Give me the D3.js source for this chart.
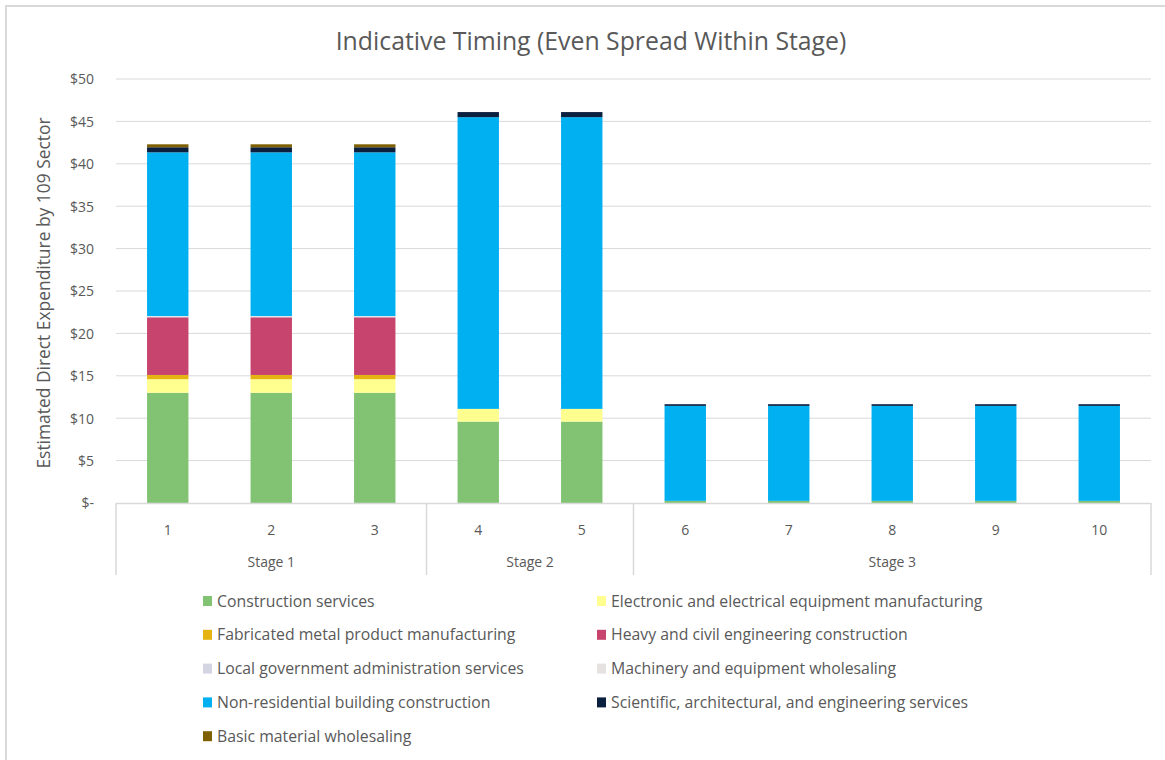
<!DOCTYPE html>
<html>
<head>
<meta charset="utf-8">
<script src="https://cdn.jsdelivr.net/npm/d3@7/dist/d3.min.js"></script>
<style>
  html, body { margin: 0; padding: 0; background: #fff; }
  svg text { font-family: "Open Sans", Lato, sans-serif; fill: #595959; }
</style>
</head>
<body>
<svg id="chart" width="1165" height="760"></svg>
<script>
// Periods and the stage each belongs to
const periods = ["1", "2", "3", "4", "5", "6", "7", "8", "9", "10"];
const stages = ["Stage 1", "Stage 1", "Stage 1", "Stage 2", "Stage 2",
                "Stage 3", "Stage 3", "Stage 3", "Stage 3", "Stage 3"];

// Sectors (stack order, bottom to top) and their colours
const sectors = [
  "Construction services",
  "Electronic and electrical equipment manufacturing",
  "Fabricated metal product manufacturing",
  "Heavy and civil engineering construction",
  "Local government administration services",
  "Machinery and equipment wholesaling",
  "Non-residential building construction",
  "Scientific, architectural, and engineering services",
  "Basic material wholesaling"
];
const colors = ["#82C373", "#FFFF8F", "#E6B412", "#C6446E", "#D4D4E2",
                "#E6E2E2", "#00B0F0", "#0B1F3F", "#7F6000"];

// Spend per period ($m) for each sector
const construction  = [13.0, 13.0, 13.0, 9.6, 9.6, 0.25, 0.25, 0.25, 0.25, 0.25];
const electronic    = [1.6, 1.6, 1.6, 1.5, 1.5, 0, 0, 0, 0, 0];
const fabricated    = [0.5, 0.5, 0.5, 0, 0, 0, 0, 0, 0, 0];
const heavyCivil    = [6.8, 6.8, 6.8, 0, 0, 0, 0, 0, 0, 0];
const localGov      = [0.1, 0.1, 0.1, 0, 0, 0, 0, 0, 0, 0];
const machinery     = [0.05, 0.05, 0.05, 0, 0, 0, 0, 0, 0, 0];
const nonResidential= [19.3, 19.3, 19.3, 34.4, 34.4, 11.2, 11.2, 11.2, 11.2, 11.2];
const scientific    = [0.6, 0.6, 0.6, 0.6, 0.6, 0.2, 0.2, 0.2, 0.2, 0.2];
const basicMaterial = [0.35, 0.35, 0.35, 0, 0, 0, 0, 0, 0, 0];

const yTicks = [0, 5, 10, 15, 20, 25, 30, 35, 40, 45, 50];
const tickLabels = ["$-", "$5", "$10", "$15", "$20", "$25", "$30", "$35", "$40", "$45", "$50"];

const seriesValues = [construction, electronic, fabricated, heavyCivil, localGov,
                      machinery, nonResidential, scientific, basicMaterial];

const rows = periods.map((p, i) => {
  const r = { period: p, stage: stages[i] };
  sectors.forEach((s, k) => { r[s] = seriesValues[k][i]; });
  return r;
});

const svg = d3.select("#chart");

// Outer chart frame
svg.append("rect")
  .attr("x", 6).attr("y", 6).attr("width", 1170).attr("height", 770)
  .attr("fill", "none").attr("stroke", "#d9d9d9").attr("stroke-width", 2);

const plot = { left: 116, right: 1151, top: 79, bottom: 503 };

const x = d3.scaleBand().domain(periods)
  .range([plot.left, plot.right]).paddingInner(0.6).paddingOuter(0.3);
const y = d3.scaleLinear().domain([0, 50]).range([plot.bottom, plot.top]);

// Title
svg.append("text")
  .attr("x", 591).attr("y", 50).attr("text-anchor", "middle")
  .style("font-size", "24.8px")
  .text("Indicative Timing (Even Spread Within Stage)");

// Gridlines
svg.append("g")
  .selectAll("line").data(yTicks.filter(t => t > 0)).join("line")
  .attr("x1", plot.left).attr("x2", plot.right)
  .attr("y1", d => y(d)).attr("y2", d => y(d))
  .attr("stroke", "#d9d9d9").attr("stroke-width", 1);

// Y axis labels
const yAxis = d3.axisLeft(y).tickValues(yTicks)
  .tickFormat((d, i) => tickLabels[i]).tickSize(0).tickPadding(0);
const gy = svg.append("g").attr("transform", `translate(${plot.left - 22},0)`).call(yAxis);
gy.select(".domain").remove();
gy.selectAll("text").style("font-size", "14px").attr("dy", "0.35em")
  .style("font-family", "'Open Sans', Lato, sans-serif").attr("fill", "#595959");

// Y axis title
svg.append("text")
  .attr("transform", `translate(50,${(plot.top + plot.bottom) / 2 + 2}) rotate(-90)`)
  .attr("text-anchor", "middle")
  .style("font-size", "17.4px")
  .text("Estimated Direct Expenditure by 109 Sector");

// Stacked bars
const stack = d3.stack().keys(sectors);
const layers = stack(rows);

svg.append("g").selectAll("g").data(layers).join("g")
  .attr("fill", (d, i) => colors[i])
  .selectAll("rect").data(d => d.filter(v => v[1] - v[0] > 0)).join("rect")
  .attr("x", d => x(d.data.period))
  .attr("width", x.bandwidth())
  .attr("y", d => y(d[1]))
  .attr("height", d => y(d[0]) - y(d[1]));

// Category axis: baseline, period labels, stage groups with dividers
const axisG = svg.append("g");
const axisBottom = 575;
axisG.append("line")
  .attr("x1", plot.left).attr("x2", plot.right)
  .attr("y1", plot.bottom + 0.5).attr("y2", plot.bottom + 0.5)
  .attr("stroke", "#d9d9d9").attr("stroke-width", 1.5);

axisG.selectAll("text.period").data(periods).join("text")
  .attr("class", "period")
  .attr("x", d => x(d) + x.bandwidth() / 2)
  .attr("y", 535).attr("text-anchor", "middle")
  .style("font-size", "14px")
  .text(d => d);

const stageNames = Array.from(new Set(stages));
const step = x.step();
const groups = stageNames.map(s => {
  const idx = periods.filter((p, i) => stages[i] === s);
  const x0 = x(idx[0]) - (step - x.bandwidth()) / 2;
  const x1 = x(idx[idx.length - 1]) + x.bandwidth() + (step - x.bandwidth()) / 2;
  return { name: s, x0, x1 };
});
groups[0].x0 = plot.left;
groups[groups.length - 1].x1 = plot.right;

const dividers = [plot.left].concat(groups.map(g => g.x1));
axisG.selectAll("line.div").data(dividers).join("line")
  .attr("class", "div")
  .attr("x1", d => d).attr("x2", d => d)
  .attr("y1", plot.bottom).attr("y2", axisBottom)
  .attr("stroke", "#d9d9d9").attr("stroke-width", 1.5);

axisG.selectAll("text.stage").data(groups).join("text")
  .attr("class", "stage")
  .attr("x", d => (d.x0 + d.x1) / 2)
  .attr("y", 567).attr("text-anchor", "middle")
  .style("font-size", "14px")
  .text(d => d.name);

// Legend in two columns
const legend = svg.append("g");
const colX = [203, 597];
const rowY0 = 601, rowStep = 33.8;
const items = legend.selectAll("g").data(sectors).join("g")
  .attr("transform", (d, i) => `translate(${colX[i % 2]},${rowY0 + Math.floor(i / 2) * rowStep})`);
items.append("rect")
  .attr("x", 0).attr("y", -5).attr("width", 9).attr("height", 10)
  .attr("fill", (d, i) => colors[i]);
items.append("text")
  .attr("x", 14).attr("y", 0).attr("dy", "0.35em")
  .style("font-size", "15.8px")
  .text(d => d);
</script>
</body>
</html>
